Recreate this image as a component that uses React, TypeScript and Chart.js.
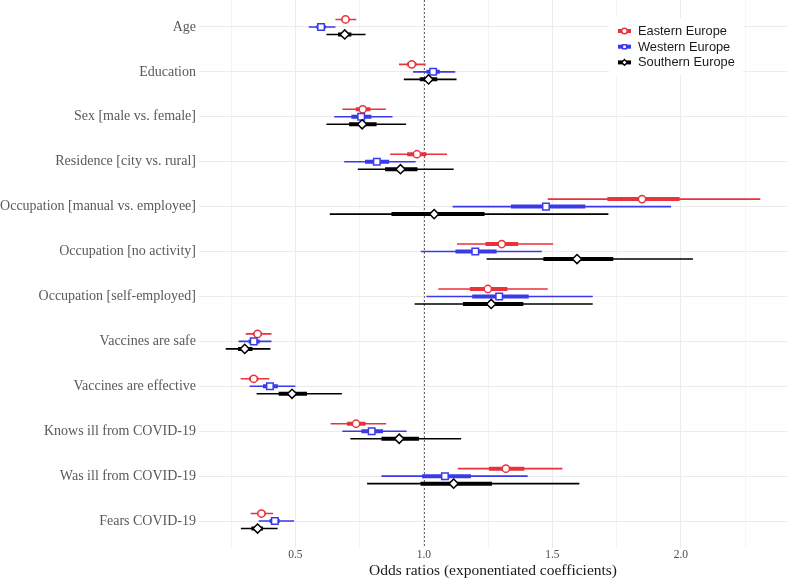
import React, { useEffect, useRef } from 'react';
import { Chart, registerables } from 'chart.js';

Chart.register(...registerables);

const categories = [
  'Age',
  'Education',
  'Sex [male vs. female]',
  'Residence [city vs. rural]',
  'Occupation [manual vs. employee]',
  'Occupation [no activity]',
  'Occupation [self-employed]',
  'Vaccines are safe',
  'Vaccines are effective',
  'Knows ill from COVID-19',
  'Was ill from COVID-19',
  'Fears COVID-19',
];

const xTicks = [0.25, 0.5, 0.75, 1.0, 1.25, 1.5, 1.75, 2.0, 2.25];
const xTitle = 'Odds ratios (exponentiated coefficients)';

const seriesNames = ['Eastern Europe', 'Western Europe', 'Southern Europe'];

// Eastern Europe
const eastEst = [0.695, 0.953, 0.762, 0.973, 1.849, 1.303, 1.249, 0.353, 0.338, 0.736, 1.319, 0.368];
const eastLo = [0.656, 0.903, 0.683, 0.869, 1.482, 1.129, 1.056, 0.307, 0.287, 0.637, 1.132, 0.326];
const eastHi = [0.737, 1.007, 0.852, 1.09, 2.309, 1.503, 1.482, 0.407, 0.399, 0.853, 1.539, 0.413];
const eastInLo = [0.68, 0.935, 0.735, 0.935, 1.714, 1.24, 1.179, 0.337, 0.32, 0.701, 1.253, 0.352];
const eastInHi = [0.71, 0.971, 0.792, 1.01, 1.995, 1.367, 1.325, 0.369, 0.356, 0.773, 1.391, 0.384];

// Western Europe
const westEst = [0.6, 1.036, 0.756, 0.817, 1.475, 1.2, 1.293, 0.338, 0.401, 0.797, 1.082, 0.42];
const westLo = [0.552, 0.958, 0.651, 0.69, 1.112, 0.988, 1.01, 0.279, 0.322, 0.683, 0.835, 0.357];
const westHi = [0.656, 1.122, 0.878, 0.968, 1.962, 1.459, 1.657, 0.407, 0.5, 0.933, 1.404, 0.495];
const westInLo = [0.582, 1.01, 0.718, 0.771, 1.339, 1.123, 1.188, 0.318, 0.374, 0.757, 0.993, 0.4];
const westInHi = [0.618, 1.062, 0.796, 0.865, 1.628, 1.283, 1.408, 0.361, 0.432, 0.841, 1.183, 0.439];

// Southern Europe
const southEst = [0.692, 1.018, 0.76, 0.909, 1.04, 1.596, 1.262, 0.303, 0.487, 0.904, 1.116, 0.353];
const southLo = [0.621, 0.922, 0.621, 0.743, 0.634, 1.244, 0.964, 0.229, 0.349, 0.714, 0.779, 0.288];
const southHi = [0.773, 1.127, 0.931, 1.116, 1.718, 2.047, 1.657, 0.403, 0.681, 1.145, 1.605, 0.431];
const southInLo = [0.666, 0.984, 0.709, 0.849, 0.874, 1.465, 1.152, 0.277, 0.435, 0.835, 0.987, 0.329];
const southInHi = [0.718, 1.052, 0.816, 0.975, 1.236, 1.737, 1.387, 0.333, 0.545, 0.981, 1.265, 0.374];

const seriesColors = ['#e8323c', '#3a3ae8', '#000000'];
const seriesMarkers = ['circle', 'rect', 'rectRot'];
const markerRadius = [3.6, 4.6, 4.6];
const rowOffsets = [-0.167, 0, 0.167];

const seriesData = [
  { est: eastEst, lo: eastLo, hi: eastHi, inLo: eastInLo, inHi: eastInHi },
  { est: westEst, lo: westLo, hi: westHi, inLo: westInLo, inHi: westInHi },
  { est: southEst, lo: southLo, hi: southHi, inLo: southInLo, inHi: southInHi },
];

const SERIF = "'Liberation Serif', 'DejaVu Serif', serif";
const SANS = "'Liberation Sans', Arial, sans-serif";

function segments(lo: number[], hi: number[], off: number) {
  const out: any[] = [];
  lo.forEach((l, i) => {
    out.push({ x: l, y: i + off });
    out.push({ x: hi[i], y: i + off });
    out.push({ x: null, y: null });
  });
  return out;
}

const refLinePlugin = {
  id: 'refLine',
  beforeDatasetsDraw(chart: any) {
    const { ctx, chartArea, scales } = chart;
    const x = Math.round(scales.x.getPixelForValue(1.0)) + 0.5;
    ctx.save();
    ctx.strokeStyle = '#666666';
    ctx.lineWidth = 1;
    ctx.setLineDash([2, 2]);
    ctx.beginPath();
    ctx.moveTo(x, chartArea.top);
    ctx.lineTo(x, chartArea.bottom);
    ctx.stroke();
    ctx.restore();
  },
};

function drawMarker(ctx: CanvasRenderingContext2D, style: string, x: number, y: number, r: number) {
  ctx.beginPath();
  if (style === 'circle') {
    ctx.arc(x, y, r, 0, Math.PI * 2);
  } else if (style === 'rect') {
    const s = Math.SQRT1_2 * r;
    ctx.rect(x - s, y - s, 2 * s, 2 * s);
  } else {
    ctx.moveTo(x - r, y);
    ctx.lineTo(x, y - r);
    ctx.lineTo(x + r, y);
    ctx.lineTo(x, y + r);
    ctx.closePath();
  }
  ctx.fill();
  ctx.stroke();
}

const legendPlugin = {
  id: 'insetLegend',
  afterDraw(chart: any) {
    const { ctx, chartArea } = chart;
    const boxLeft = chartArea.right - 178;
    const boxRight = chartArea.right - 44;
    const top = 18;
    ctx.save();
    ctx.fillStyle = '#ffffff';
    ctx.fillRect(boxLeft, top, boxRight - boxLeft, 57);
    seriesNames.forEach((name, i) => {
      const y = top + 13 + i * 15.7;
      const x0 = boxLeft + 9;
      ctx.strokeStyle = seriesColors[i];
      ctx.lineWidth = 4;
      ctx.beginPath();
      ctx.moveTo(x0, y);
      ctx.lineTo(x0 + 13, y);
      ctx.stroke();
      ctx.lineWidth = 1.4;
      ctx.fillStyle = '#ffffff';
      drawMarker(ctx, seriesMarkers[i], x0 + 6.5, y, 2.8);
      ctx.fillStyle = '#1a1a1a';
      ctx.font = `12.8px ${SANS}`;
      ctx.textAlign = 'left';
      ctx.textBaseline = 'middle';
      ctx.fillText(name, x0 + 20, y + 0.5);
    });
    ctx.restore();
  },
};

function isMajor(v: number) {
  return Math.abs(v * 2 - Math.round(v * 2)) < 1e-9;
}

export default function App() {
  const canvasRef = useRef<HTMLCanvasElement | null>(null);

  useEffect(() => {
    const canvas = canvasRef.current;
    if (!canvas) return;
    const datasets: any[] = [];
    seriesData.forEach((s, si) => {
      const off = rowOffsets[si];
      datasets.push({
        label: seriesNames[si] + ' 95%',
        data: segments(s.lo, s.hi, off),
        showLine: true,
        spanGaps: false,
        borderColor: seriesColors[si],
        borderWidth: 1.6,
        pointRadius: 0,
        order: 3,
      });
      datasets.push({
        label: seriesNames[si] + ' inner',
        data: segments(s.inLo, s.inHi, off),
        showLine: true,
        spanGaps: false,
        borderColor: seriesColors[si],
        borderWidth: 4,
        borderCapStyle: 'butt',
        pointRadius: 0,
        order: 2,
      });
      datasets.push({
        label: seriesNames[si],
        data: s.est.map((v, i) => ({ x: v, y: i + off })),
        showLine: false,
        pointStyle: seriesMarkers[si],
        pointRadius: markerRadius[si],
        pointBackgroundColor: '#ffffff',
        pointBorderColor: seriesColors[si],
        pointBorderWidth: 1.5,
        order: 1 - si * 0.1,
      });
    });

    const chart = new Chart(canvas, {
      type: 'scatter',
      data: { datasets },
      options: {
        animation: false,
        responsive: false,
        devicePixelRatio: 1,
        layout: { padding: 0, autoPadding: false },
        events: [],
        plugins: {
          legend: { display: false },
          tooltip: { enabled: false },
        },
        scales: {
          x: {
            type: 'linear',
            min: 0.125,
            max: 2.413,
            afterBuildTicks: (scale: any) => {
              scale.ticks = xTicks.map((v) => ({ value: v }));
            },
            afterFit: (scale: any) => {
              scale.height = 31;
              scale.paddingLeft = 0;
              scale.paddingRight = 0;
            },
            ticks: {
              autoSkip: false,
              maxRotation: 0,
              padding: 0,
              color: '#4d4d4d',
              font: { family: SERIF, size: 11.5 },
              callback: (v: any) => (isMajor(Number(v)) ? Number(v).toFixed(1) : ''),
            },
            grid: {
              drawTicks: false,
              color: (ctx: any) => (ctx.tick && isMajor(ctx.tick.value) ? '#ebebeb' : '#f5f5f5'),
              lineWidth: 1,
            },
            border: { display: false },
            title: {
              display: true,
              text: xTitle,
              color: '#1a1a1a',
              font: { family: SERIF, size: 15.5, lineHeight: 1 },
              padding: { top: 0, bottom: 0 },
            },
          },
          y: {
            type: 'linear',
            reverse: true,
            min: -0.6,
            max: 11.6,
            afterBuildTicks: (scale: any) => {
              scale.ticks = categories.map((_, i) => ({ value: i }));
            },
            afterFit: (scale: any) => {
              scale.width = 199;
              scale.paddingTop = 0;
              scale.paddingBottom = 0;
            },
            ticks: {
              autoSkip: false,
              padding: 3,
              color: '#595959',
              font: { family: SERIF, size: 14 },
              callback: (v: any) => categories[Number(v)] ?? '',
            },
            grid: { drawTicks: false, color: '#ebebeb', lineWidth: 1 },
            border: { display: false },
          },
        },
      },
      plugins: [refLinePlugin, legendPlugin],
    } as any);

    return () => chart.destroy();
  }, []);

  return (
    <div style={{ position: 'fixed', left: 0, top: 0, width: 787, height: 579, background: '#ffffff' }}>
      <canvas ref={canvasRef} width={787} height={579} style={{ width: 787, height: 579, display: 'block' }} />
    </div>
  );
}
